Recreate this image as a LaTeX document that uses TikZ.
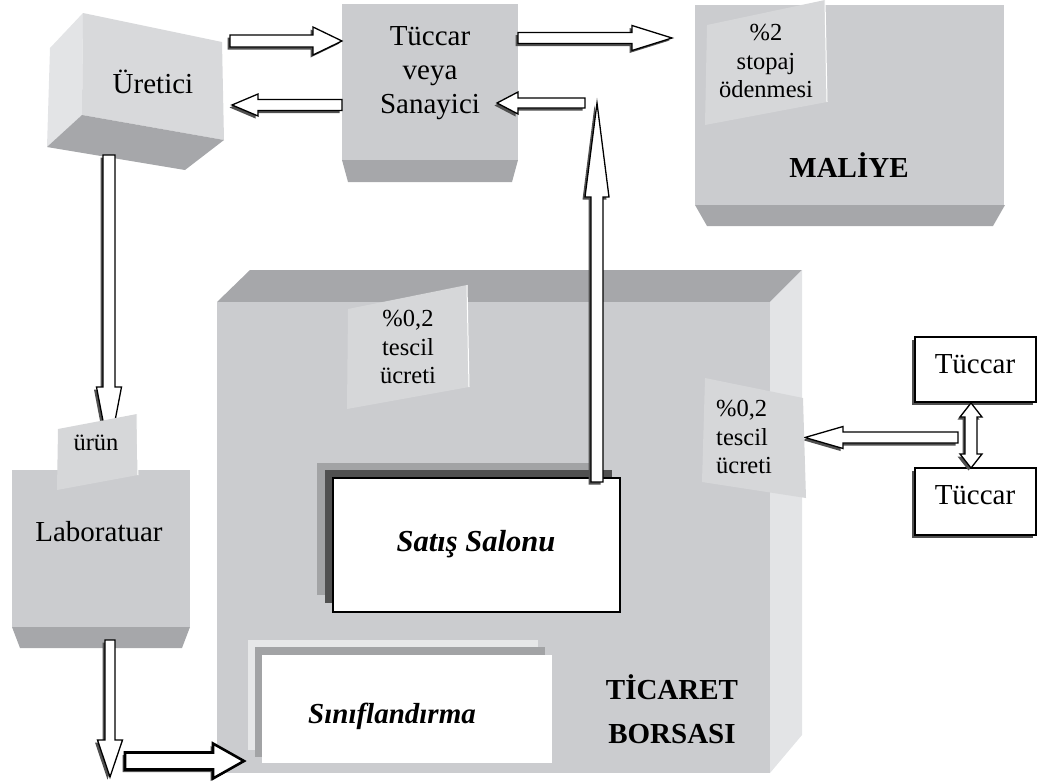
\documentclass[tikz,border=0pt]{standalone}
\usepackage{fontspec}
\setmainfont{Liberation Serif}
\usetikzlibrary{calc}
\definecolor{facegray}{HTML}{CBCCCF}
\definecolor{uretfront}{HTML}{D8D9DB}
\definecolor{lightface}{HTML}{E3E4E6}
\definecolor{darkface}{HTML}{A6A7AA}
\definecolor{taggray}{HTML}{D6D7D9}
\definecolor{shadowgray}{HTML}{505050}
\definecolor{midshadow}{HTML}{A2A3A5}
\definecolor{paleshadow}{HTML}{E6E7E8}
\tikzset{
  lbl/.style={inner sep=0pt, font=\fontsize{29}{34}\selectfont, align=center},
  taglbl/.style={inner sep=0pt, font=\fontsize{24.5}{28.5}\selectfont, align=center},
  boldlbl/.style={inner sep=0pt, font=\fontsize{29}{44}\selectfont\bfseries, align=center},
  itlbl/.style={inner sep=0pt, font=\fontsize{29}{34}\selectfont\bfseries\itshape},
  tagface/.style={fill=taggray},
  arrowbody/.style={fill=white, draw=black, line width=1.3pt, line join=miter},
  arrowshadow/.style={fill=shadowgray},
  boldarrow/.style={fill=white, draw=black, line width=2.6pt, line join=miter},
  whitebox/.style={fill=white, draw=black, line width=1.3pt},
}
% #1 options, #2 start, #3 tip, #4 half shaft, #5 half head, #6 head length
\newcommand{\blkarrow}[6][arrowbody]{%
  \coordinate (ba-h) at ($(#3)!#6!(#2)$);
  \coordinate (ba-1) at ($(#2)!#4!90:(#3)$);
  \coordinate (ba-2) at ($(ba-h)!#4!90:(#3)$);
  \coordinate (ba-3) at ($(ba-h)!#5!90:(#3)$);
  \coordinate (ba-4) at ($(ba-h)!#5!-90:(#3)$);
  \coordinate (ba-5) at ($(ba-h)!#4!-90:(#3)$);
  \coordinate (ba-6) at ($(#2)!#4!-90:(#3)$);
  \begin{scope}[transform canvas={shift={(-2.5pt,-2.5pt)}}]
    \fill[arrowshadow] (ba-1)--(ba-2)--(ba-3)--(#3)--(ba-4)--(ba-5)--(ba-6)--cycle;
  \end{scope}
  \draw[#1] (ba-1)--(ba-2)--(ba-3)--(#3)--(ba-4)--(ba-5)--(ba-6)--cycle;
}
% double headed: #2 tip A, #3 tip B
\newcommand{\blkdarrow}[6][arrowbody]{%
  \coordinate (bd-a) at ($(#2)!#6!(#3)$);
  \coordinate (bd-b) at ($(#3)!#6!(#2)$);
  \coordinate (bd-1) at ($(bd-a)!#5!90:(#3)$);
  \coordinate (bd-2) at ($(bd-a)!#4!90:(#3)$);
  \coordinate (bd-3) at ($(bd-b)!#4!90:(#3)$);
  \coordinate (bd-4) at ($(bd-b)!#5!90:(#3)$);
  \coordinate (bd-5) at ($(bd-b)!#5!-90:(#3)$);
  \coordinate (bd-6) at ($(bd-b)!#4!-90:(#3)$);
  \coordinate (bd-7) at ($(bd-a)!#4!-90:(#3)$);
  \coordinate (bd-8) at ($(bd-a)!#5!-90:(#3)$);
  \begin{scope}[transform canvas={shift={(-2.5pt,-2.5pt)}}]
    \fill[arrowshadow] (#2)--(bd-1)--(bd-2)--(bd-3)--(bd-4)--(#3)--(bd-5)--(bd-6)--(bd-7)--(bd-8)--cycle;
  \end{scope}
  \draw[#1] (#2)--(bd-1)--(bd-2)--(bd-3)--(bd-4)--(#3)--(bd-5)--(bd-6)--(bd-7)--(bd-8)--cycle;
}
\begin{document}
\begin{tikzpicture}[x=1pt,y=-1pt]
\useasboundingbox (0,0) rectangle (1041,782);

% ---------- Üretici (3D box) ----------
\fill[lightface] (47,147) -- (50,48) -- (83,13) -- (82,115) -- cycle;
\fill[uretfront] (83,13) -- (222,42) -- (224,140) -- (82,115) -- cycle;
\fill[darkface] (82,115) -- (224,140) -- (185,170) -- (47,147) -- cycle;
\node[lbl, anchor=base] (uretici) at (153,93) {Üretici};

% ---------- Tüccar veya Sanayici ----------
\fill[darkface] (342,160) -- (518,160) -- (512,182) -- (348,182) -- cycle;
\fill[facegray] (342,4) rectangle (518,160);
\node[lbl] (tuccar) at (430,73) {Tüccar\\veya\\Sanayici};

% ---------- Maliye ----------
\fill[darkface] (695,205) -- (1005,205) -- (993,226) -- (707,226) -- cycle;
\fill[facegray] (695,4) rectangle (1005,205);
\draw[white, line width=1pt] (695,4.5) -- (1004.5,4.5) -- (1004.5,205);
\node[boldlbl, anchor=base] (maliye) at (849,177) {MALİYE};

% ---------- Ticaret Borsası ----------
\fill[darkface] (217,302) -- (250,270) -- (802,270) -- (770,302) -- cycle;
\fill[lightface] (770,302) -- (802,270) -- (802,735) -- (770,773) -- cycle;
\fill[facegray] (217,302) rectangle (770,773);
\node[boldlbl] (borsa) at (672,709) {TİCARET\\BORSASI};

% ---------- Laboratuar ----------
\fill[darkface] (12,627) -- (190,627) -- (182,648) -- (20,648) -- cycle;
\fill[facegray] (12,470) rectangle (190,627);
\node[lbl, anchor=base] (lab) at (99,541) {Laboratuar};

% ---------- Satış Salonu ----------
\fill[midshadow] (317,463) rectangle (603,595);
\fill[shadowgray] (325,470) rectangle (612,603);
\draw[whitebox] (333,478) rectangle (620,612);
\node[itlbl, anchor=base, font=\fontsize{30.5}{34}\selectfont\bfseries\itshape] (satis) at (476,551) {Satış Salonu};

% ---------- Sınıflandırma ----------
\fill[paleshadow] (248,640) rectangle (538,750);
\fill[midshadow] (255,647) rectangle (545,757);
\fill[white] (262,655) rectangle (552,763);
\node[itlbl, anchor=base] (sinif) at (392,723) {Sınıflandırma};

% ---------- Tüccar (right) ----------
\fill[shadowgray] (912,340) rectangle (1033,405);
\draw[whitebox] (915,337) rectangle (1036,402);
\node[lbl, anchor=base] (tuc1) at (975,373) {Tüccar};
\fill[shadowgray] (912,471) rectangle (1033,538);
\draw[whitebox] (915,468) rectangle (1036,535);
\node[lbl, anchor=base] (tuc2) at (975,504) {Tüccar};

% ---------- connector end points ----------
\coordinate (c1s) at (230,41);   \coordinate (c1e) at (342,41);
\coordinate (c2s) at (342,105);  \coordinate (c2e) at (232,105);
\coordinate (c3s) at (518,38);   \coordinate (c3e) at (672,38);
\coordinate (c4s) at (585,103);  \coordinate (c4e) at (497,103);
\coordinate (c5s) at (597,482);  \coordinate (c5e) at (597,103);
\coordinate (c6s) at (109,155);  \coordinate (c6e) at (109,452);
\coordinate (c7s) at (110,640);  \coordinate (c7e) at (110,777);
\coordinate (c8s) at (125,761);  \coordinate (c8e) at (244,761);
\coordinate (c9s) at (958,437.5);\coordinate (c9e) at (805,437.5);
\coordinate (c10a) at (971,403); \coordinate (c10b) at (971,468);

% ---------- arrows ----------
\blkarrow{c1s}{c1e}{6pt}{14pt}{29pt}
\blkarrow{c2s}{c2e}{5.5pt}{11pt}{26pt}
\blkarrow{c3s}{c3e}{5.5pt}{12.5pt}{40pt}
\blkarrow{c4s}{c4e}{5pt}{11pt}{21pt}
\blkarrow{c5s}{c5e}{6pt}{12pt}{94pt}
\blkarrow{c6s}{c6e}{6pt}{12.5pt}{65pt}
\blkarrow{c7s}{c7e}{5pt}{12.5pt}{37pt}
\blkarrow[boldarrow]{c8s}{c8e}{8.5pt}{17.5pt}{31pt}
\blkarrow{c9s}{c9e}{5.5pt}{11pt}{38pt}
\blkdarrow{c10a}{c10b}{6pt}{11pt}{14pt}

% ---------- tags ----------
\fill[tagface] (707,25) -- (825,0) -- (827,102) -- (705,125) -- cycle;
\draw[white, line width=1pt] (825,0) -- (827,102);
\node[taglbl] (stopaj) at (766,61) {\%2\\stopaj\\ödenmesi};

\fill[tagface] (348,309) -- (467,285) -- (469,387) -- (347,409) -- cycle;
\draw[white, line width=1pt] (467,285) -- (469,387);
\node[taglbl] (tescil1) at (408,347) {\%0,2\\tescil\\ücreti};

\fill[tagface] (705,378) -- (803,398) -- (806,498) -- (702,482) -- cycle;
\node[taglbl, align=left, anchor=west] (tescil2) at (716,437) {\%0,2\\tescil\\ücreti};

\fill[tagface] (58,429) -- (137,414) -- (138,475) -- (57,490) -- cycle;
\draw[white, line width=1pt] (137,414) -- (138,475);
\node[taglbl, anchor=base] (urun) at (96,450) {ürün};
\end{tikzpicture}
\end{document}
